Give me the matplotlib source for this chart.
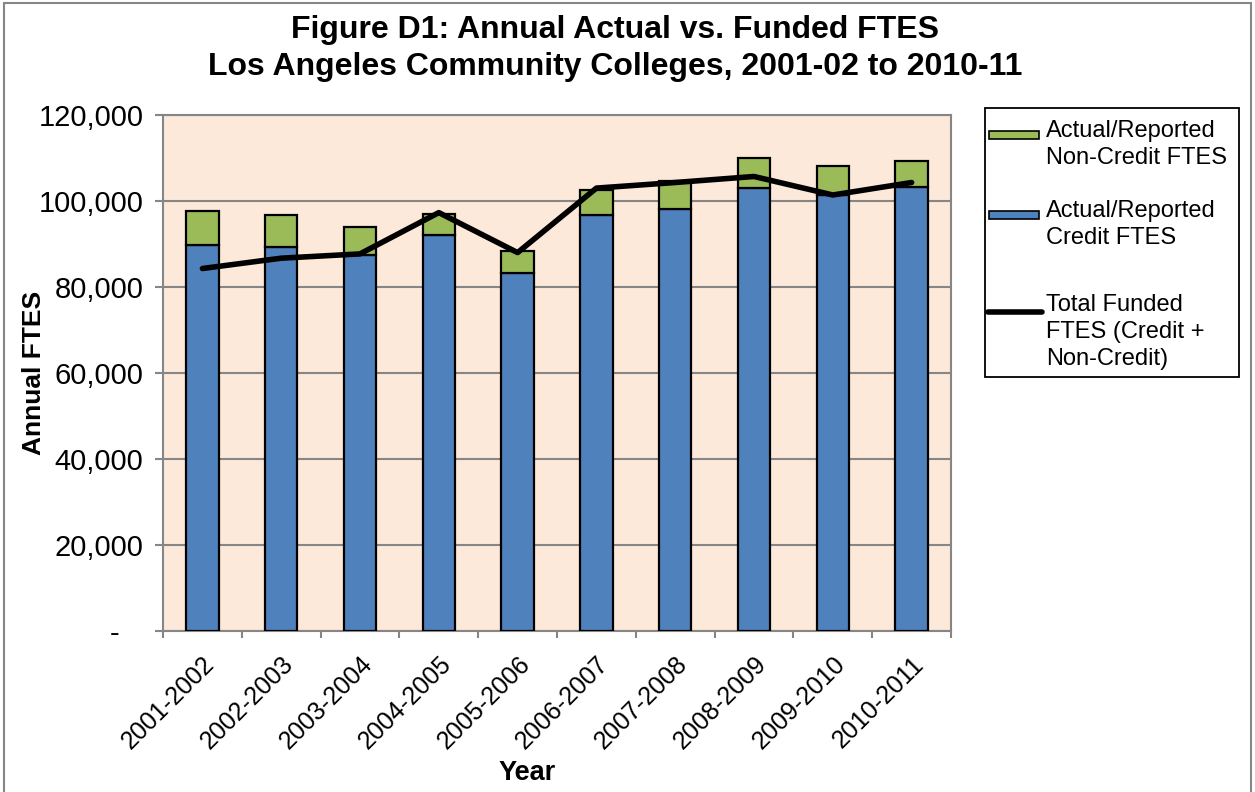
import numpy as np
import matplotlib.pyplot as plt
from matplotlib.patches import Rectangle
from matplotlib.lines import Line2D
from matplotlib.ticker import FuncFormatter, MultipleLocator

plt.rcParams['font.family'] = ['Liberation Sans', 'DejaVu Sans']

years = ['2001-2002', '2002-2003', '2003-2004', '2004-2005', '2005-2006',
         '2006-2007', '2007-2008', '2008-2009', '2009-2010', '2010-2011']
credit = [89800, 89400, 87400, 92000, 83200, 96700, 98200, 103000, 101500, 103300]
total_actual = [97700, 96800, 94000, 97000, 88400, 102600, 104700, 109900, 108100, 109300]
funded = [84300, 86700, 87700, 97300, 88000, 103000, 104300, 105700, 101400, 104300]

noncredit = [t - c for t, c in zip(total_actual, credit)]

W, H = 1255, 792
fig = plt.figure(figsize=(W / 100, H / 100), dpi=100)
ax = fig.add_axes([163 / W, 1 - 631 / H, 788 / W, 516 / H])

def px(xp, yp):
    # pixel position (from top left) -> figure fraction
    return xp / W, 1 - yp / H

# outer frame of the chart
fig.patches.append(Rectangle((0.003, -0.01), 0.994, 1.006, transform=fig.transFigure,
                             fill=False, edgecolor='#868686', linewidth=1.5))

x = np.arange(len(years))
ax.set_facecolor('#FDE9D9')
ax.bar(x, credit, width=0.41, color='#4F81BD', edgecolor='black', linewidth=1.6, zorder=3)
ax.bar(x, noncredit, bottom=credit, width=0.41, color='#9BBB59', edgecolor='black',
       linewidth=1.6, zorder=3)
ax.plot(x, funded, color='black', linewidth=4, solid_capstyle='round', zorder=4)

ax.set_xlim(-0.5, len(years) - 0.5)
ax.set_ylim(0, 120000)
ax.yaxis.set_major_locator(MultipleLocator(20000))
ax.yaxis.set_major_formatter(FuncFormatter(lambda v, p: '-   ' if v == 0 else f'{int(v):,}'))
ax.grid(axis='y', color='#868686', linewidth=1.5, zorder=1)
ax.set_axisbelow(True)

ax.set_xticks(x)
ax.set_xticklabels(years, rotation=45, ha='right', rotation_mode='anchor', fontsize=18)
ax.set_xticks(np.arange(-0.5, len(years)), minor=True)
ax.tick_params(axis='x', which='major', length=0, pad=15)
ax.tick_params(axis='x', which='minor', length=5, width=1.5, color='#868686')
ax.tick_params(axis='y', length=6, width=1.5, color='#868686', labelsize=21, pad=8)

for s in ax.spines.values():
    s.set_color('#868686')
    s.set_linewidth(1.5)

ax.set_xlabel('Year', fontsize=19.5, fontweight='bold')
ax.set_ylabel('Annual FTES', fontsize=19, fontweight='bold')
ax.xaxis.set_label_coords(0.462, -0.25)
ax.yaxis.set_label_coords(-0.148, 0.5)

fig.text(*px(615, 38), 'Figure D1: Annual Actual vs. Funded FTES', ha='center', va='baseline',
         fontsize=23, fontweight='bold')
fig.text(*px(615, 75), 'Los Angeles Community Colleges, 2001-02 to 2010-11', ha='center',
         va='baseline', fontsize=23, fontweight='bold')

# legend box, drawn by hand so each key sits on the first line of its label
fig.patches.append(Rectangle(px(985, 377), 254 / W, 269 / H, transform=fig.transFigure,
                             facecolor='white', edgecolor='black', linewidth=1.3))
legend_rows = [
    ('patch', '#9BBB59', ['Actual/Reported', 'Non-Credit FTES'], 137),
    ('patch', '#4F81BD', ['Actual/Reported', 'Credit FTES'], 217),
    ('line', 'black', ['Total Funded', 'FTES (Credit +', 'Non-Credit)'], 311),
]
for kind, color, lines, base in legend_rows:
    if kind == 'patch':
        fig.patches.append(Rectangle(px(989, base + 2), 50 / W, 8 / H, transform=fig.transFigure,
                                     facecolor=color, edgecolor='black', linewidth=1.2))
    else:
        fig.lines.append(Line2D([988 / W, 1042 / W], [1 - (base + 1) / H] * 2,
                                transform=fig.transFigure, color=color, linewidth=4,
                                solid_capstyle='round'))
    for i, t in enumerate(lines):
        fig.text(*px(1046, base + 27 * i), t, ha='left', va='baseline', fontsize=17)

fig.savefig('out.png', dpi=100)
